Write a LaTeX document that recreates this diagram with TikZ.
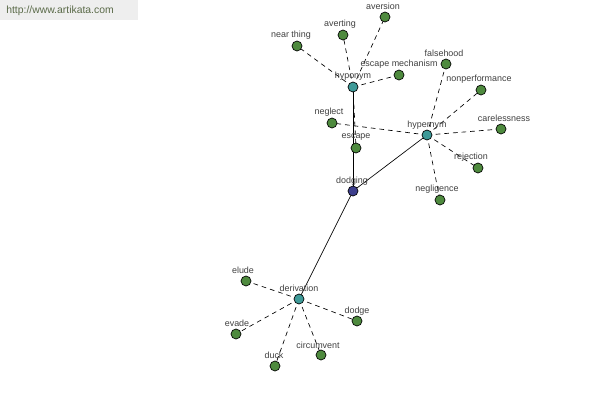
\documentclass[tikz,border=0pt]{standalone}
\usepackage{fontspec}
\setmainfont{Liberation Sans}
\begin{document}
\begin{tikzpicture}[x=0.75pt,y=-0.75pt,
  leaf/.style={circle,draw=black,line width=0.5pt,fill=leafgreen,minimum size=7.5pt,inner sep=0pt},
  hub/.style={leaf,fill=hubteal},
  root/.style={leaf,fill=rootblue},
  lbl/.style={font=\fontsize{6.7}{8}\selectfont,text=labelgray,inner sep=0pt},
  dashedge/.style={draw=black,line width=0.5pt,dash pattern=on 3.5pt off 3pt},
  solidline/.style={draw=black,line width=0.5pt}]
\definecolor{leafgreen}{HTML}{4E8A3E}
\definecolor{hubteal}{HTML}{3E9A98}
\definecolor{rootblue}{HTML}{3C3E8C}
\definecolor{labelgray}{HTML}{404040}
\definecolor{wmgray}{HTML}{EEEEEE}
\definecolor{wmtext}{HTML}{5A6A48}
\useasboundingbox[fill=white] (0,0) rectangle (600,400);
\fill[wmgray] (0,0) rectangle (138,20);
\node[font=\fontsize{7.8}{9}\selectfont,text=wmtext,anchor=west,inner sep=0pt] (wm) at (6,11) {http://www.artikata.com};
% leaves
\foreach \n/\x/\y in {
  aversion/385/17, averting/343/35, nearthing/297/46,
  escmech/399/75, escape/356/148, neglect/332/123,
  falsehood/446/64, nonperf/481/90, careless/501/129,
  rejection/478/168, negligence/440/200,
  elude/246/281, evade/236/334, duck/275/366,
  circumvent/321/355, dodge/357/321}
  {\coordinate (\n) at (\x,\y);}
\coordinate (hyponym) at (353,87);
\coordinate (hypernym) at (427,135);
\coordinate (derivation) at (299,299);
\coordinate (dodging) at (353,191);
% edges
\foreach \a in {aversion,averting,nearthing,escmech,escape}
  \draw[dashedge] (hyponym) -- (\a);
\foreach \a in {neglect,falsehood,nonperf,careless,rejection,negligence}
  \draw[dashedge] (hypernym) -- (\a);
\foreach \a in {elude,evade,duck,circumvent,dodge}
  \draw[dashedge] (derivation) -- (\a);
\draw[solidline] (dodging) -- (hyponym);
\draw[solidline] (dodging) -- (hypernym);
\draw[solidline] (dodging) -- (derivation);
% nodes on top
\foreach \n in {aversion,averting,nearthing,escmech,escape,neglect,falsehood,nonperf,careless,rejection,negligence,elude,evade,duck,circumvent,dodge}
  \node[leaf] (n-\n) at (\n) {};
\node[hub] (n-hyponym) at (hyponym) {};
\node[hub] (n-hypernym) at (hypernym) {};
\node[hub] (n-derivation) at (derivation) {};
\node[root] (n-dodging) at (dodging) {};
% labels
\node[lbl] (l1) at (383,6) {aversion};
\node[lbl] (l2) at (340,24) {averting};
\node[lbl] (l3) at (291,35) {near thing};
\node[lbl] (l4) at (399,64) {escape mechanism};
\node[lbl] (l5) at (353,76) {hyponym};
\node[lbl] (l6) at (444,53) {falsehood};
\node[lbl] (l7) at (479,79) {nonperformance};
\node[lbl] (l8) at (504,118) {carelessness};
\node[lbl] (l9) at (471,157) {rejection};
\node[lbl] (l10) at (437,189) {negligence};
\node[lbl] (l11) at (329,112) {neglect};
\node[lbl] (l12) at (356,137) {escape};
\node[lbl] (l13) at (352,181) {dodging};
\node[lbl] (l14) at (427,125) {hypernym};
\node[lbl] (l15) at (299,288) {derivation};
\node[lbl] (l16) at (243,270) {elude};
\node[lbl] (l17) at (237,323) {evade};
\node[lbl] (l18) at (274,355) {duck};
\node[lbl] (l19) at (318,345) {circumvent};
\node[lbl] (l20) at (357,311) {dodge};
\end{tikzpicture}
\end{document}
